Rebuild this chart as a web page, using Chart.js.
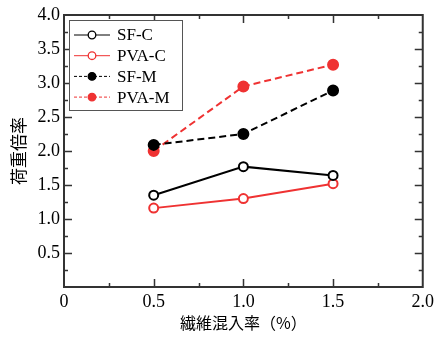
<!DOCTYPE html>
<html>
<head>
<meta charset="utf-8">
<script src="https://cdn.jsdelivr.net/npm/chart.js@4"></script>
<style>
  html, body { margin: 0; padding: 0; background: #fff; }
  #wrap { width: 438px; height: 338px; }
</style>
</head>
<body>
<div id="wrap"><canvas id="c" width="438" height="338"></canvas></div>
<script>
// data
const fiberRates = [0.5, 1.0, 1.5];
const sfC  = [1.35, 1.77, 1.64];
const pvaC = [1.16, 1.30, 1.52];
const sfM  = [2.09, 2.25, 2.89];
const pvaM = [2.00, 2.95, 3.27];
const seriesNames = ['SF-C', 'PVA-C', 'SF-M', 'PVA-M'];
const xTicks = [0, 0.5, 1.0, 1.5, 2.0];
const yTicks = [0.5, 1.0, 1.5, 2.0, 2.5, 3.0, 3.5, 4.0];

const RED = '#ef3232';
const BLACK = '#000';
const SERIF = '"Liberation Serif", "Times New Roman", serif';
const CJK = '"Noto Sans CJK JP", sans-serif';

const pts = ys => fiberRates.map((x, i) => ({ x, y: ys[i] }));

function ds(label, ys, color, filled, dashed) {
  return {
    label,
    data: pts(ys),
    borderColor: color,
    backgroundColor: filled ? color : '#fff',
    pointBackgroundColor: filled ? color : '#fff',
    pointBorderColor: color,
    pointBorderWidth: 2,
    pointRadius: filled ? 5 : 4.5,
    borderWidth: 2,
    borderDash: dashed ? [7, 4] : [],
    fill: false,
    tension: 0
  };
}

// inward ticks + frame
const frameTicks = {
  id: 'frameTicks',
  afterDraw(chart) {
    const { ctx, chartArea: a, scales: { x, y } } = chart;
    ctx.save();
    ctx.strokeStyle = '#333';
    ctx.lineWidth = 1.5;
    for (let v = 0.25; v < 2; v += 0.25) {
      const px = Math.round(x.getPixelForValue(v)) + 0.5;
      const len = Math.abs(v * 2 - Math.round(v * 2)) < 1e-6 ? 8 : 4;
      ctx.beginPath();
      ctx.moveTo(px, a.bottom); ctx.lineTo(px, a.bottom - len);
      ctx.moveTo(px, a.top); ctx.lineTo(px, a.top + len);
      ctx.stroke();
    }
    for (let v = 0.25; v < 4; v += 0.25) {
      const py = Math.round(y.getPixelForValue(v)) + 0.5;
      const len = Math.abs(v * 2 - Math.round(v * 2)) < 1e-6 ? 8 : 4;
      ctx.beginPath();
      ctx.moveTo(a.left, py); ctx.lineTo(a.left + len, py);
      ctx.moveTo(a.right, py); ctx.lineTo(a.right - len, py);
      ctx.stroke();
    }
    ctx.lineWidth = 2;
    ctx.strokeRect(a.left, a.top, a.right - a.left, a.bottom - a.top);
    ctx.restore();
  }
};

// legend box inside the plot, top-left
const boxLegend = {
  id: 'boxLegend',
  afterDraw(chart) {
    const { ctx, chartArea: a } = chart;
    const bx = a.left + 5, by = a.top + 5, bw = 113, bh = 90;
    ctx.save();
    ctx.fillStyle = '#fff';
    ctx.fillRect(bx, by, bw, bh);
    ctx.strokeStyle = '#555';
    ctx.lineWidth = 1;
    ctx.strokeRect(bx + 0.5, by + 0.5, bw, bh);
    ctx.font = '17px ' + SERIF;
    ctx.textBaseline = 'middle';
    chart.data.datasets.forEach((d, i) => {
      const ly = by + 15 + i * 20.7;
      ctx.strokeStyle = d.borderColor;
      ctx.lineWidth = 1;
      ctx.setLineDash(d.borderDash.length ? [3, 2] : []);
      ctx.beginPath();
      ctx.moveTo(bx + 5, ly); ctx.lineTo(bx + 41, ly);
      ctx.stroke();
      ctx.setLineDash([]);
      ctx.beginPath();
      ctx.arc(bx + 23, ly, 3.8, 0, Math.PI * 2);
      ctx.fillStyle = d.pointBackgroundColor;
      ctx.fill();
      ctx.lineWidth = 1.3;
      ctx.stroke();
      ctx.fillStyle = '#000';
      ctx.fillText(d.label, bx + 48, ly + 1);
    });
    ctx.restore();
  }
};

new Chart(document.getElementById('c'), {
  type: 'line',
  data: {
    datasets: [
      ds(seriesNames[0], sfC, BLACK, false, false),
      ds(seriesNames[1], pvaC, RED, false, false),
      ds(seriesNames[2], sfM, BLACK, true, true),
      ds(seriesNames[3], pvaM, RED, true, true)
    ]
  },
  options: {
    responsive: false,
    animation: false,
    layout: { padding: { top: 15, right: 12, left: 0, bottom: 0 } },
    plugins: { legend: { display: false }, tooltip: { enabled: false } },
    scales: {
      x: {
        type: 'linear', min: 0, max: 2,
        afterBuildTicks: s => { s.ticks = xTicks.map(v => ({ value: v })); },
        afterFit: s => { s.height = 51; },
        grid: { display: false, drawTicks: false, tickLength: 0 },
        border: { display: false },
        ticks: {
          padding: 4, color: '#000',
          font: { family: SERIF, size: 18 },
          callback: v => v === 0 ? '0' : v.toFixed(1)
        },
        title: {
          display: true, text: '繊維混入率（%）', color: '#000',
          font: { family: CJK, size: 16 }, padding: { top: 2, bottom: 5 }
        }
      },
      y: {
        type: 'linear', min: 0, max: 4,
        afterBuildTicks: s => { s.ticks = yTicks.map(v => ({ value: v })); },
        afterFit: s => { s.width = 64; },
        grid: { display: false, drawTicks: false, tickLength: 0 },
        border: { display: false },
        ticks: {
          padding: 4, color: '#000',
          font: { family: SERIF, size: 18 },
          callback: v => v.toFixed(1)
        },
        title: {
          display: true, text: '荷重倍率', color: '#000',
          font: { family: CJK, size: 17 }, padding: { top: 8, bottom: 0 }
        }
      }
    }
  },
  plugins: [frameTicks, boxLegend]
});
</script>
</body>
</html>
